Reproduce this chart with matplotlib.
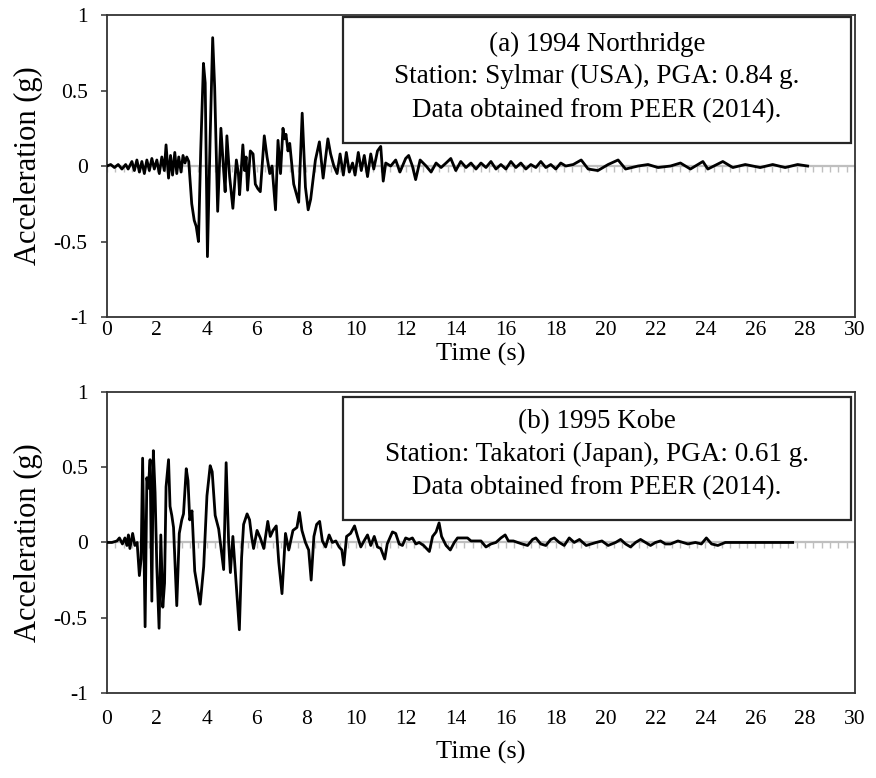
import matplotlib.pyplot as plt
from matplotlib.patches import Rectangle
import numpy as np

plt.rcParams['font.family'] = ['Liberation Serif', 'DejaVu Serif']

# ---------------------------------------------------------------------------
# Ground motion records (time in s, accel in g)
# ---------------------------------------------------------------------------
north_t = [0.00, 0.15, 0.30, 0.45, 0.60, 0.75, 0.85, 1.00, 1.10, 1.20, 1.30,
           1.40, 1.50, 1.60, 1.70, 1.80, 1.90, 2.00, 2.10, 2.20, 2.30, 2.37,
           2.47, 2.55, 2.63, 2.72, 2.80, 2.88, 2.97, 3.05, 3.13, 3.20, 3.28,
           3.40, 3.50, 3.58, 3.67, 3.76, 3.87, 3.94, 4.03, 4.14, 4.24, 4.32,
           4.44, 4.57, 4.68, 4.74, 4.81, 4.92, 5.05, 5.19, 5.27, 5.32, 5.45,
           5.52, 5.58, 5.64, 5.75, 5.86, 5.95, 6.05, 6.15, 6.31, 6.42, 6.53,
           6.62, 6.76, 6.86, 6.96, 7.06, 7.12, 7.18, 7.26, 7.33, 7.49, 7.69,
           7.83, 7.96, 8.07, 8.17, 8.36, 8.52, 8.67, 8.86, 8.97, 9.10, 9.23,
           9.35, 9.48, 9.60, 9.72, 9.85, 9.95, 10.08, 10.20, 10.32, 10.45,
           10.58, 10.70, 10.85, 10.98, 11.08, 11.18, 11.38, 11.58, 11.75,
           11.98, 12.10, 12.25, 12.38, 12.56, 12.80, 13.00, 13.20, 13.40,
           13.60, 13.79, 13.99, 14.19, 14.40, 14.60, 14.80, 15.00, 15.20,
           15.40, 15.60, 15.80, 16.00, 16.20, 16.40, 16.60, 16.80, 17.00,
           17.20, 17.40, 17.60, 17.80, 18.00, 18.20, 18.40, 18.70, 19.02,
           19.30, 19.69, 20.10, 20.50, 20.80, 21.30, 21.70, 22.10, 22.60,
           23.00, 23.40, 23.90, 24.10, 24.70, 25.10, 25.60, 26.20, 26.70,
           27.20, 27.70, 28.10]
north_a = [0.00, 0.01, -0.01, 0.01, -0.02, 0.01, -0.02, 0.03, -0.03, 0.04,
           -0.04, 0.03, -0.05, 0.04, -0.03, 0.05, -0.02, 0.04, -0.05, 0.06,
           -0.03, 0.14, -0.08, 0.07, -0.06, 0.09, -0.05, 0.06, -0.04, 0.07,
           0.02, 0.06, 0.03, -0.25, -0.36, -0.40, -0.50, 0.10, 0.68, 0.55,
           -0.60, 0.20, 0.85, 0.52, -0.30, 0.25, -0.03, -0.17, 0.20, -0.07,
           -0.28, 0.04, -0.05, -0.19, 0.14, -0.03, 0.06, -0.16, 0.10, 0.08,
           -0.12, -0.15, -0.17, 0.20, 0.06, -0.05, 0.00, -0.29, 0.17, -0.05,
           0.25, 0.18, 0.21, 0.10, 0.15, -0.12, -0.24, 0.35, -0.14, -0.29,
           -0.22, 0.04, 0.16, -0.08, 0.18, 0.08, 0.00, -0.05, 0.08, -0.06,
           0.09, -0.04, 0.02, -0.06, 0.09, -0.03, 0.07, -0.07, 0.08, -0.02,
           0.10, 0.13, -0.10, 0.02, 0.00, 0.04, -0.04, 0.05, 0.07, 0.00,
           -0.09, 0.04, 0.00, -0.04, 0.02, -0.01, 0.02, 0.05, -0.03, 0.03,
           -0.01, 0.02, -0.02, 0.02, -0.01, 0.03, -0.02, 0.01, -0.02, 0.03,
           -0.01, 0.02, -0.02, 0.01, -0.01, 0.03, -0.01, 0.01, -0.02, 0.02,
           0.00, 0.01, 0.04, -0.02, -0.03, 0.01, 0.04, -0.02, 0.00, 0.01,
           -0.01, 0.00, 0.02, -0.02, 0.03, -0.02, 0.03, -0.01, 0.01, -0.01,
           0.01, -0.01, 0.01, 0.00]

kobe_t = [0.00, 0.20, 0.40, 0.50, 0.62, 0.72, 0.80, 0.86, 0.92, 1.03, 1.12,
          1.21, 1.30, 1.37, 1.43, 1.53, 1.60, 1.66, 1.73, 1.80, 1.86, 1.93,
          2.00, 2.09, 2.16, 2.24, 2.31, 2.37, 2.47, 2.53, 2.60, 2.67, 2.80,
          2.90, 3.00, 3.07, 3.18, 3.25, 3.32, 3.41, 3.52, 3.74, 3.88, 4.01,
          4.14, 4.22, 4.34, 4.48, 4.68, 4.78, 4.88, 4.95, 5.05, 5.15, 5.31,
          5.40, 5.48, 5.62, 5.72, 5.80, 5.88, 6.02, 6.15, 6.29, 6.45, 6.55,
          6.66, 6.79, 6.89, 7.02, 7.16, 7.29, 7.46, 7.62, 7.72, 7.82, 7.96,
          8.09, 8.19, 8.30, 8.41, 8.53, 8.64, 8.77, 8.91, 9.04, 9.18, 9.31,
          9.42, 9.50, 9.61, 9.77, 9.93, 10.05, 10.18, 10.31, 10.45, 10.58,
          10.72, 10.85, 10.98, 11.14, 11.24, 11.45, 11.58, 11.72, 11.85,
          11.98, 12.12, 12.25, 12.39, 12.52, 12.70, 12.93, 13.06, 13.20,
          13.32, 13.42, 13.60, 13.77, 13.93, 14.06, 14.26, 14.46, 14.60,
          14.80, 15.00, 15.20, 15.40, 15.60, 15.80, 15.97, 16.10, 16.30,
          16.47, 16.65, 16.87, 17.07, 17.20, 17.40, 17.60, 17.80, 17.94,
          18.14, 18.34, 18.54, 18.74, 18.95, 19.22, 19.42, 19.62, 19.85,
          20.10, 20.40, 20.60, 20.80, 21.00, 21.20, 21.40, 21.60, 21.80,
          22.00, 22.20, 22.40, 22.60, 22.90, 23.10, 23.30, 23.60, 23.84,
          24.04, 24.25, 24.50, 24.80, 25.10, 25.50, 26.00, 26.50, 27.00,
          27.50]
kobe_a = [0.00, 0.00, 0.01, 0.03, -0.01, 0.03, -0.02, 0.05, -0.04, 0.06,
          -0.02, 0.00, -0.22, -0.11, 0.56, -0.56, 0.43, 0.36, 0.55, -0.39,
          0.61, 0.33, -0.16, -0.57, 0.05, -0.43, -0.27, 0.37, 0.55, 0.24,
          0.18, 0.10, -0.42, 0.06, 0.15, 0.19, 0.49, 0.41, 0.15, 0.21,
          -0.19, -0.41, -0.16, 0.31, 0.51, 0.47, 0.18, 0.09, -0.18, 0.53,
          0.00, -0.20, 0.04, -0.20, -0.58, -0.10, 0.12, 0.19, 0.15, 0.04,
          -0.04, 0.08, 0.03, -0.04, 0.14, 0.04, 0.08, 0.11, -0.13, -0.34,
          0.06, -0.05, 0.08, 0.10, 0.20, 0.08, 0.00, -0.05, -0.25, 0.04,
          0.12, 0.14, 0.01, -0.03, 0.05, 0.00, 0.01, -0.03, -0.05, -0.15,
          0.04, 0.06, 0.11, 0.04, -0.03, 0.01, 0.05, -0.02, 0.04, -0.03,
          -0.04, -0.11, -0.01, 0.07, 0.06, -0.01, -0.02, 0.03, 0.02, 0.03,
          -0.01, 0.00, -0.02, -0.06, 0.04, 0.07, 0.13, 0.04, -0.02, -0.05,
          0.00, 0.03, 0.03, 0.03, 0.01, 0.01, 0.01, -0.03, -0.01, 0.00,
          0.03, 0.05, 0.01, 0.01, 0.00, -0.01, -0.02, 0.02, 0.03, -0.01,
          -0.02, 0.02, 0.03, 0.00, -0.02, 0.03, 0.00, 0.02, -0.02, -0.01,
          0.00, 0.01, -0.02, 0.00, 0.02, -0.01, -0.03, 0.00, 0.02, 0.00,
          -0.02, 0.00, 0.01, -0.01, -0.01, 0.01, 0.00, -0.01, 0.00, -0.01,
          0.03, -0.01, -0.02, 0.00, 0.00, 0.00, 0.00, 0.00, 0.00, 0.00]

north_text = ["(a) 1994 Northridge",
              "Station: Sylmar (USA), PGA: 0.84 g.",
              "Data obtained from PEER (2014)."]
kobe_text = ["(b) 1995 Kobe",
             "Station: Takatori (Japan), PGA: 0.61 g.",
             "Data obtained from PEER (2014)."]

x_ticks = list(range(0, 31, 2))
y_ticks = [-1, -0.5, 0, 0.5, 1]
y_tick_labels = ["-1", "-0.5", "0", "0.5", "1"]


def draw_record(ax, t, a, lines, box_y0, box_y1, text_y, xtick_pad, xlabel_y):
    """Draw one acceleration record in the Excel-like style."""
    # grey axis at zero with small tick marks hanging below it
    ax.axhline(0, color="#bfbfbf", lw=1.6, zorder=1)
    ax.plot(np.arange(0, 30.01, 1 / 3), np.zeros(91), ls="none", marker=3,
            ms=4, mew=1.0, color="#bfbfbf", zorder=1)

    ax.plot(t, a, color="black", lw=2.0, zorder=3)

    ax.set_xlim(0, 30)
    ax.set_ylim(-1, 1)
    ax.set_xticks(x_ticks)
    ax.set_yticks(y_ticks)
    ax.set_yticklabels(y_tick_labels)
    ax.tick_params(axis="x", length=0, pad=xtick_pad, labelsize=15.5)
    ax.tick_params(axis="y", length=4, width=1.2, color="#404040",
                   pad=10, labelsize=15.5)
    for sp in ax.spines.values():
        sp.set_color("#333333")
        sp.set_linewidth(1.3)

    ax.set_xlabel("Time (s)", fontsize=19)
    ax.set_ylabel("Acceleration (g)", fontsize=22)
    ax.xaxis.set_label_coords(0.5, xlabel_y)
    ax.yaxis.set_label_coords(-0.085, 0.5)

    # framed note in the upper right corner
    box = Rectangle((0.3155, box_y0), 0.679, box_y1 - box_y0,
                    transform=ax.transAxes, fill=True, facecolor="white",
                    edgecolor="#262626", lw=1.6, zorder=4)
    ax.add_patch(box)
    for line, y in zip(lines, text_y):
        ax.text(0.655, y, line, transform=ax.transAxes, ha="center",
                va="center", fontsize=19.5, zorder=5)


fig = plt.figure(figsize=(8.76, 7.78), dpi=100)
ax1 = fig.add_axes([0.1221, 0.5925, 0.8539, 0.3882])
ax2 = fig.add_axes([0.1221, 0.1093, 0.8539, 0.3869])

draw_record(ax1, north_t, north_a, north_text, 0.576, 0.993,
            [0.904, 0.795, 0.682], 3, -0.085)
draw_record(ax2, kobe_t, kobe_a, kobe_text, 0.575, 0.983,
            [0.900, 0.791, 0.681], 12, -0.16)

fig.savefig("out.png", dpi=100)
